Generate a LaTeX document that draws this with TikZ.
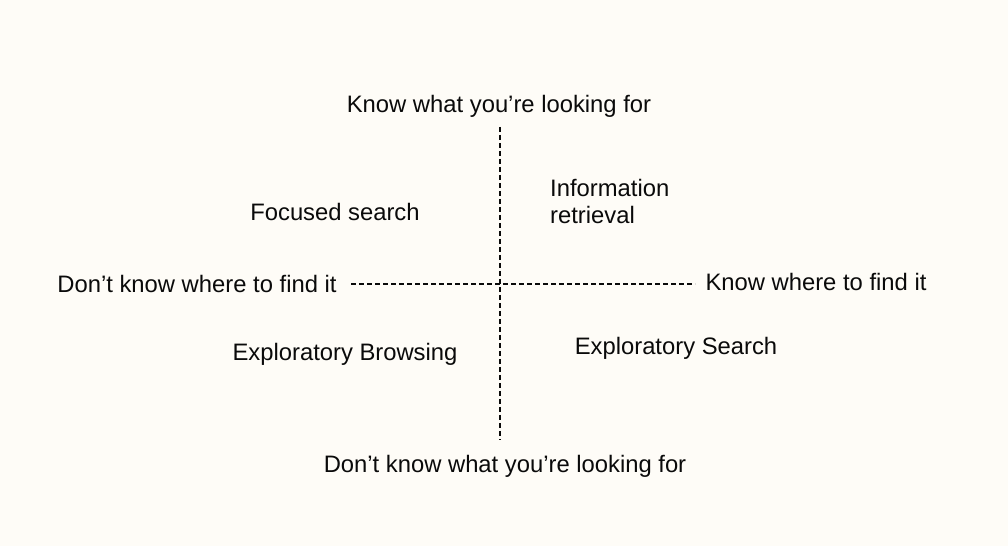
\documentclass[tikz,border=0pt]{standalone}
\usepackage{fontspec}
\setmainfont{Liberation Sans}
\definecolor{paper}{RGB}{254,252,247}
\definecolor{ink}{RGB}{10,10,10}
\begin{document}
\begin{tikzpicture}[x=1pt,y=1pt,
  lbl/.style={inner sep=0pt, text=ink, font=\fontsize{23.8}{27}\selectfont},
  axis/.style={draw=ink, line width=1.3pt, dash pattern=on 5pt off 3pt}]
  % canvas
  \fill[paper] (0,0) rectangle (1008,546);
  \useasboundingbox (0,0) rectangle (1008,546);

  % axis labels
  \node[lbl] (top)    at (499,440) {Know what you’re looking for};
  \node[lbl] (bottom) at (505,80)  {Don’t know what you’re looking for};
  \node[lbl] (left)   at (197,262) {Don’t know where to find it};
  \node[lbl] (right)  at (816,264) {Know where to find it};

  % quadrant labels
  \node[lbl] (focused) at (335,334) {Focused search};
  \node[lbl, anchor=west, align=left] (info) at (550,345) {Information\\retrieval};
  \node[lbl] (browse) at (345,192) {Exploratory Browsing};
  \node[lbl] (search) at (676,198) {Exploratory Search};

  % axes
  \coordinate (vtop) at (500,419);
  \coordinate (vbot) at (500,106);
  \coordinate (hl) at (351,262);
  \coordinate (hr) at (695,262);
  \draw[axis] (vtop) -- (vbot);
  \draw[axis] (hl) -- (hr);
\end{tikzpicture}
\end{document}
